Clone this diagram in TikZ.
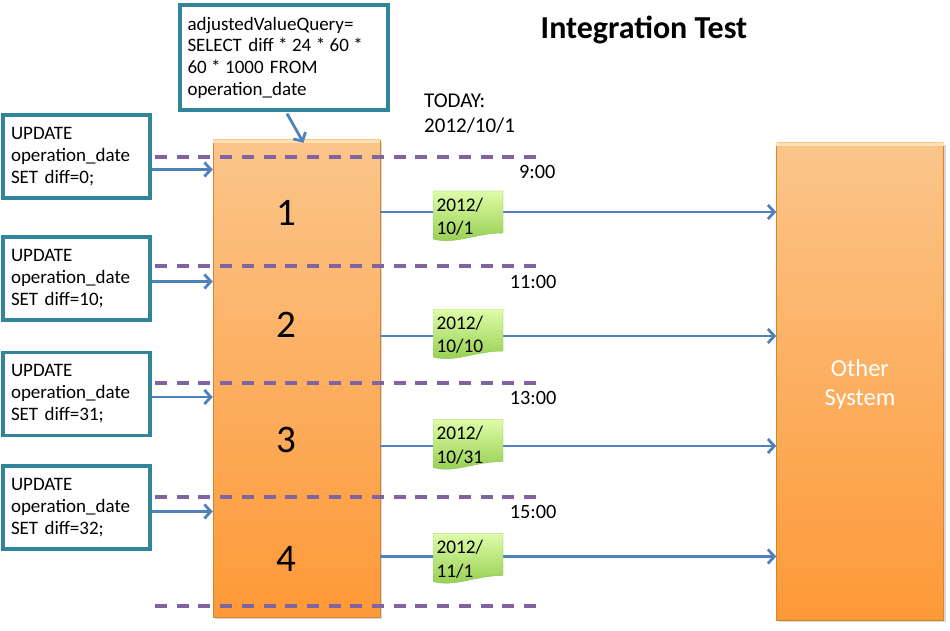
\documentclass[tikz,border=0pt]{standalone}
\usepackage{fontspec}
\setmainfont{Carlito}
\usetikzlibrary{positioning,shadows,arrows.meta}
\definecolor{sqlcolor}{RGB}{49,133,155}
\definecolor{flowcolor}{RGB}{79,129,189}
\definecolor{cutcolor}{RGB}{128,100,162}
\definecolor{coltop}{RGB}{251,197,138}
\definecolor{colbot}{RGB}{253,153,55}
\definecolor{bevel}{RGB}{255,226,175}
\definecolor{notetop}{RGB}{222,252,168}
\definecolor{notebot}{RGB}{146,204,76}
\definecolor{noteedge}{RGB}{140,190,80}
\newcommand{\mul}{\makebox[0.3em]{*}}

\begin{document}
\begin{tikzpicture}[%
    x=1pt, y=-1pt,                               % work in picture pixels
    >={Straight Barb[length=6.5pt,width=14pt]},  % open arrow heads
    ]
\tikzset{
  sqlbox/.style={draw=sqlcolor, line width=3.2pt, fill=white, align=left, inner sep=0pt,
    text width=131pt, minimum width=147pt, minimum height=83pt,
    font=\fontsize{19}{22}\selectfont},
  column/.style={draw=colbot!85!black, line width=0.4pt, top color=coltop, bottom color=colbot,
    drop shadow={shadow xshift=2pt, shadow yshift=-2pt, opacity=0.3}},
  bevel line/.style={draw=bevel, line width=3pt},
  step num/.style={font=\fontsize{39}{40}\selectfont},
  note/.style={minimum width=70pt, minimum height=51pt, inner sep=0pt, text width=63pt, align=left,
    font=\fontsize{19.3}{23.5}\selectfont,
    path picture={
      \shade[top color=notetop, bottom color=notebot, draw=noteedge]
        (path picture bounding box.north west) -- (path picture bounding box.north east)
        -- ([yshift=9pt]path picture bounding box.south east)
        .. controls ([xshift=-28pt,yshift=9pt]path picture bounding box.south east)
        and ([xshift=22pt,yshift=-3pt]path picture bounding box.south west)
        .. ([yshift=3pt]path picture bounding box.south west) -- cycle;
    }},
  timelbl/.style={anchor=east, font=\fontsize{20.3}{22}\selectfont},
  flow/.style={->, draw=flowcolor, line width=2.8pt},
  cut/.style={draw=cutcolor, line width=3.5pt, dash pattern=on 12pt off 9.7pt},
}
\useasboundingbox (0,0) rectangle (950,631);

% title
\node [font=\fontsize{32}{34}\selectfont\bfseries] (title) at (644,30) {Integration Test};

% systems
\node [column, minimum width=167pt, minimum height=477pt] (col) at (296.5,378.5) {};
\node [column, minimum width=167pt, minimum height=477pt] (other) at (860,381.5) {};
\draw [bevel line] ([yshift=-1.8pt]col.north west) -- ([yshift=-1.8pt]col.north east);
\draw [bevel line] ([yshift=-1.8pt]other.north west) -- ([yshift=-1.8pt]other.north east);
\node [text=white, align=center, font=\fontsize{24.5}{29}\selectfont]
  (othername) at ([yshift=-3pt]other.center) {Other\\System};

% query callout
\node [sqlbox, text width=193pt, minimum width=208pt, minimum height=105pt,
       font=\fontsize{19}{21.7}\selectfont] (q) at (284,57.5)
  {adjustedValueQuery=\\SELECT diff \mul{} 24 \mul{} 60 \mul\\60 \mul{} 1000 FROM\\operation\_date};
\node [anchor=north west, align=left, inner sep=0pt, font=\fontsize{21}{25}\selectfont]
  (today) at (424,94) {TODAY:\\2012/10/1};

% updates
\node [sqlbox] (u1) at (76.5,156.5) {UPDATE\\operation\_date\\SET diff=0;};
\node [sqlbox] (u2) at (76.5,278.5) {UPDATE\\operation\_date\\SET diff=10;};
\node [sqlbox] (u3) at (76.5,394) {UPDATE\\operation\_date\\SET diff=31;};
\node [sqlbox] (u4) at (76.5,507.5) {UPDATE\\operation\_date\\SET diff=32;};

% time slots
\draw [cut] (155,157) -- (537,157);
\draw [cut] (155,266) -- (537,266);
\draw [cut] (155,383) -- (537,383);
\draw [cut] (155,497) -- (537,497);
\draw [cut] (155,606) -- (537,606);

\node [step num] (s1) at (286,213) {1};
\node [step num] (s2) at (286,325) {2};
\node [step num] (s3) at (286,440) {3};
\node [step num] (s4) at (286,559) {4};

\node [timelbl] (t1) at (559,172) {9:00};
\node [timelbl] (t2) at (560,282) {11:00};
\node [timelbl] (t3) at (560,398) {13:00};
\node [timelbl] (t4) at (560,512) {15:00};

%connect
\draw [flow] ([xshift=3pt,yshift=-2pt]q.south) -- ([xshift=7pt,yshift=-3pt]col.north);

\path (u1.east) ++(0,13) coordinate (a1);
\path (u2.east) ++(0,3) coordinate (a2);
\path (u3.east) ++(0,3) coordinate (a3);
\path (u4.east) ++(0,4) coordinate (a4);
\draw [flow] (a1) -- (a1 -| col.west);
\draw [flow] (a2) -- (a2 -| col.west);
\draw [flow] (a3) -- (a3 -| col.west);
\draw [flow] (a4) -- (a4 -| col.west);

\coordinate (r1) at (468,212);
\coordinate (r2) at (468,336);
\coordinate (r3) at (468,446);
\coordinate (r4) at (468,556.5);
\draw [flow] (col.east |- r1) -- (other.west |- r1);
\draw [flow] (col.east |- r2) -- (other.west |- r2);
\draw [flow] (col.east |- r3) -- (other.west |- r3);
\draw [flow] (col.east |- r4) -- (other.west |- r4);

% dates sent
\node [note] (n1) at ([yshift=-4.5pt]r1) {2012/\\10/1};
\node [note] (n2) at ([yshift=1.5pt]r2) {2012/\\10/10};
\node [note] (n3) at ([yshift=1pt]r3) {2012/\\10/31};
\node [note] (n4) at ([yshift=-2.5pt]r4) {2012/\\11/1};

\end{tikzpicture}
\end{document}
